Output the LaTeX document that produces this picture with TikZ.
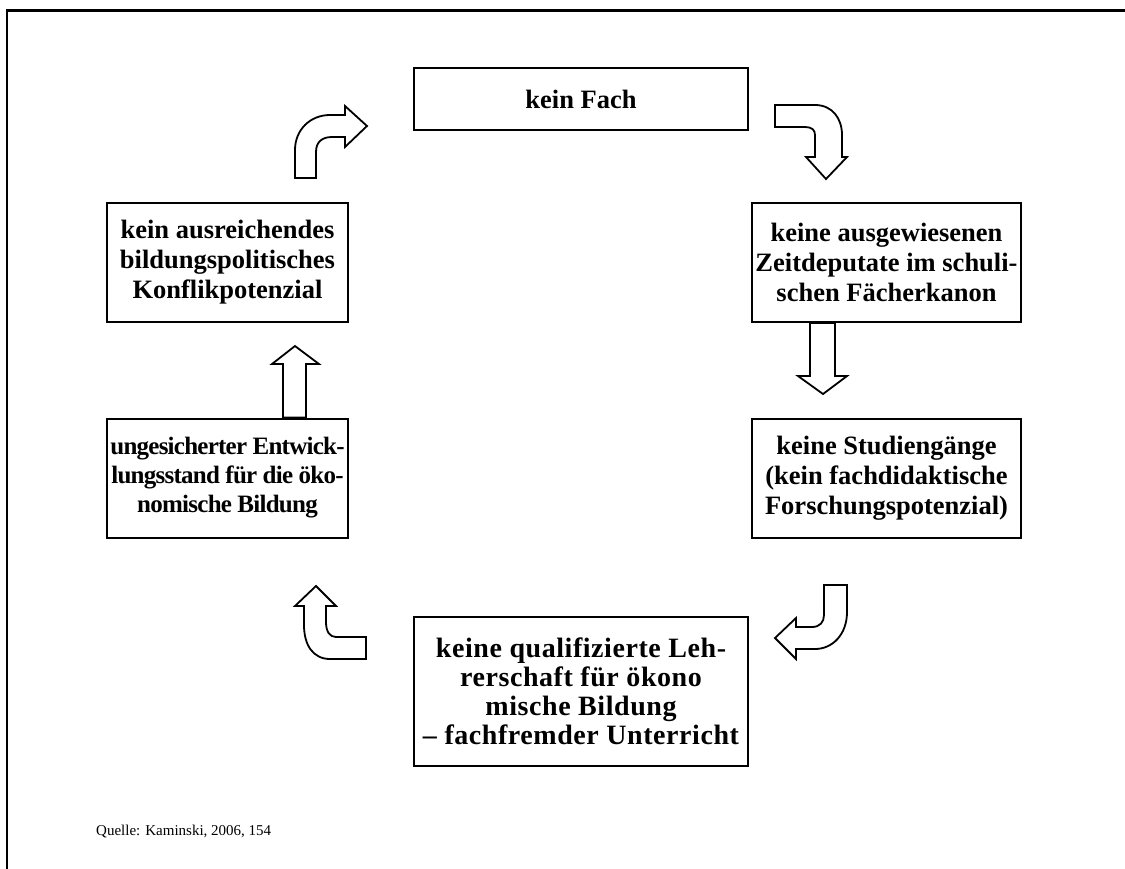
\documentclass[tikz,border=0pt]{standalone}
\usepackage{fontspec}
\setmainfont{Liberation Serif}
\begin{document}
\begin{tikzpicture}[x=1pt,y=-1pt,
  boxnode/.style={draw,line width=2pt,align=center,inner sep=0pt,
    font=\bfseries\fontsize{26.5}{30}\selectfont},
  blockarrow/.style={draw,line width=1.8pt,fill=white,line join=miter}]
\useasboundingbox (0,0) rectangle (1125,868);
\draw[line width=2.6pt] (7,870) -- (7,10.5) -- (1127,10.5);

\node[boxnode,minimum width=334pt,minimum height=62pt] (fach) at (581,99) {kein Fach};
\node[boxnode,minimum width=241pt,minimum height=119pt] (konflikt) at (227.5,262.5)
  {kein ausreichendes\\bildungspolitisches\\Konflikpotenzial};
\node[boxnode,minimum width=269pt,minimum height=119pt] (zeit) at (886.5,262.5)
  {keine ausgewiesenen\\Zeitdeputate im schuli-\\schen Fächerkanon};
\node[boxnode,minimum width=269pt,minimum height=119pt] (studium) at (886.5,478)
  {keine Studiengänge\\(kein fachdidaktische\\Forschungspotenzial)};
\node[boxnode,minimum width=241pt,minimum height=119pt,
  font=\bfseries\fontsize{25}{29}\selectfont\addfontfeatures{LetterSpace=-3}] (stand) at (227.5,478)
  {ungesicherter Entwick-\\lungsstand für die öko-\\nomische Bildung};
\node[boxnode,minimum width=334pt,minimum height=149pt,
  font=\bfseries\fontsize{28}{29}\selectfont\addfontfeatures{LetterSpace=2}] (lehrer) at (581,691.5)
  {keine qualifizierte Leh-\\rerschaft für ökono\\mische Bildung\\– fachfremder Unterricht};

\node[anchor=base west,inner sep=0pt,font=\fontsize{15}{18}\selectfont] (quelle) at (96,835)
  {Quelle: Kaminski, 2006, 154};

% curved arrow: konflikt -> fach
\draw[blockarrow] (295,178) -- (295,150) .. controls (295,130) and (310,115) .. (330,115)
  -- (345,115) -- (345,106) -- (367,126) -- (345,147) -- (345,137) -- (332,137)
  .. controls (322,137) and (316,142) .. (316,152) -- (316,178) -- cycle;
% curved arrow: fach -> zeit
\draw[blockarrow] (775,105) -- (815,105) .. controls (832,105) and (842,118) .. (842,135)
  -- (842,157) -- (847,157) -- (826,179) -- (806,157) -- (815,157) -- (815,135)
  .. controls (815,130) and (812,127) .. (805,127) -- (775,127) -- cycle;
% straight arrow: zeit -> studium
\draw[blockarrow] (zeit.south -| 810,0) -- (810,376) -- (798,376) -- (823,394)
  -- (847,376) -- (835,376) -- (zeit.south -| 835,0) -- cycle;
% curved arrow: studium -> lehrer
\draw[blockarrow] (824,585) -- (847,585) -- (847,612) .. controls (847,635) and (832,649) .. (815,649)
  -- (796,649) -- (796,659) -- (775,638) -- (796,618) -- (796,627) -- (812,627)
  .. controls (820,627) and (824,622) .. (824,615) -- cycle;
% curved arrow: lehrer -> stand
\draw[blockarrow] (366,637) -- (366,659) -- (330,659) .. controls (313,659) and (304,645) .. (304,625)
  -- (304,606) -- (295,606) -- (316,586) -- (336,606) -- (326,606) -- (326,622)
  .. controls (326,632) and (330,637) .. (336,637) -- cycle;
% straight arrow: stand -> konflikt
\draw[blockarrow] (stand.north -| 283,0) -- (283,364) -- (272,364) -- (295,346)
  -- (319,364) -- (306,364) -- (stand.north -| 306,0) -- cycle;
\end{tikzpicture}
\end{document}
